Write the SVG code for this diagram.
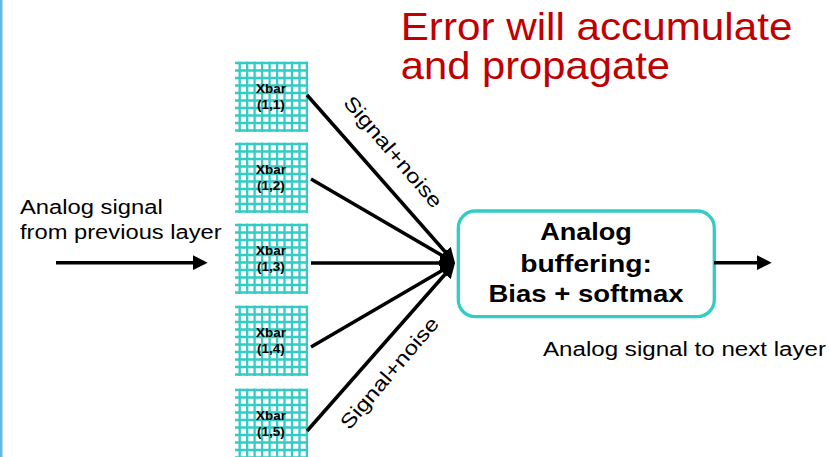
<svg xmlns="http://www.w3.org/2000/svg" xmlns:xlink="http://www.w3.org/1999/xlink" width="829" height="457" viewBox="0 0 829 457">
  <style>
    .grid { fill: none; stroke: #33CCC4; stroke-width: 2.3; }
    .xlbl { font-family: "Liberation Sans", Arial, sans-serif; font-weight: bold; font-size: 13.5px; fill: #000; text-anchor: middle; }
    .txt { font-family: "Liberation Sans", Arial, sans-serif; font-size: 20px; fill: #000; }
    .btxt { font-family: "Liberation Sans", Arial, sans-serif; font-weight: bold; font-size: 23px; fill: #000; text-anchor: middle; }
    .title { font-family: "Liberation Sans", Arial, sans-serif; font-size: 39px; fill: #C00000; }
    .wire { stroke: #000; stroke-width: 3.5; fill: none; marker-end: url(#head); }
    .box { fill: #fff; stroke: #33CCC4; stroke-width: 3.3; }
  </style>
  <defs>
    <marker id="head" markerUnits="userSpaceOnUse" markerWidth="15" markerHeight="15" refX="5" refY="7.5" orient="auto">
      <path d="M0,0 L15,7.5 L0,15 Z" fill="#000"/>
    </marker>
    <!-- crossbar array: 10 x 10 grid of wires -->
    <path id="xbarGrid" class="grid" d="M4.7 -1.5V69 M12.2 -1.5V69 M19.6 -1.5V69 M27.1 -1.5V69 M34.6 -1.5V69 M42.1 -1.5V69 M49.5 -1.5V69 M57 -1.5V69 M64.5 -1.5V69 M71.9 -1.5V69 M0 0H73 M0 7.5H73 M0 15H73 M0 22.5H73 M0 30H73 M0 37.5H73 M0 45H73 M0 52.5H73 M0 60H73 M0 67.5H73"/>
  </defs>

  <rect width="829" height="457" fill="#fff"/>
  <!-- slide edge -->
  <rect x="0" y="0" width="2.5" height="457" fill="#63B8E8"/>

  <g id="caption">
    <text class="title" x="400.7" y="40" textLength="391.7" lengthAdjust="spacingAndGlyphs">Error will accumulate</text>
    <text class="title" x="400.7" y="79" textLength="269.3" lengthAdjust="spacingAndGlyphs">and propagate</text>
  </g>

  <g id="input-label">
    <text class="txt" x="20" y="214.3" textLength="142.7" lengthAdjust="spacingAndGlyphs">Analog signal</text>
    <text class="txt" x="20" y="239.3" textLength="201.7" lengthAdjust="spacingAndGlyphs">from previous layer</text>
  </g>

  <g id="xbar11" transform="translate(235,63)">
    <use xlink:href="#xbarGrid"/>
    <text class="xlbl" x="36" y="30" textLength="30" lengthAdjust="spacingAndGlyphs">Xbar</text>
    <text class="xlbl" x="36" y="45.5">(1,1)</text>
  </g>
  <g id="xbar12" transform="translate(235,144)">
    <use xlink:href="#xbarGrid"/>
    <text class="xlbl" x="36" y="30" textLength="30" lengthAdjust="spacingAndGlyphs">Xbar</text>
    <text class="xlbl" x="36" y="45.5">(1,2)</text>
  </g>
  <g id="xbar13" transform="translate(235,225)">
    <use xlink:href="#xbarGrid"/>
    <text class="xlbl" x="36" y="30" textLength="30" lengthAdjust="spacingAndGlyphs">Xbar</text>
    <text class="xlbl" x="36" y="45.5">(1,3)</text>
  </g>
  <g id="xbar14" transform="translate(235,307)">
    <use xlink:href="#xbarGrid"/>
    <text class="xlbl" x="36" y="30" textLength="30" lengthAdjust="spacingAndGlyphs">Xbar</text>
    <text class="xlbl" x="36" y="45.5">(1,4)</text>
  </g>
  <g id="xbar15" transform="translate(235,390)">
    <use xlink:href="#xbarGrid"/>
    <text class="xlbl" x="36" y="30" textLength="30" lengthAdjust="spacingAndGlyphs">Xbar</text>
    <text class="xlbl" x="36" y="45.5">(1,5)</text>
  </g>

  <g id="buffer">
    <rect class="box" x="458.3" y="211" width="256" height="105.7" rx="17" ry="17"/>
    <text class="btxt" x="586" y="240" textLength="91.7" lengthAdjust="spacingAndGlyphs">Analog</text>
    <text class="btxt" x="586" y="271.7" textLength="131.7" lengthAdjust="spacingAndGlyphs">buffering:</text>
    <text class="btxt" x="586" y="302" textLength="195" lengthAdjust="spacingAndGlyphs">Bias + softmax</text>
  </g>

  <g id="output-label">
    <text class="txt" x="543" y="356" textLength="283" lengthAdjust="spacingAndGlyphs">Analog signal to next layer</text>
  </g>

  <g id="connectors">
    <line class="wire" x1="56" y1="262.7" x2="197.7" y2="262.7"/>
    <line class="wire" x1="307" y1="95" x2="448.4" y2="255.5"/>
    <line class="wire" x1="311" y1="179" x2="446.4" y2="258"/>
    <line class="wire" x1="311" y1="263" x2="445" y2="263"/>
    <line class="wire" x1="311" y1="347" x2="446.4" y2="268"/>
    <line class="wire" x1="307" y1="431" x2="448.4" y2="270.5"/>
    <line class="wire" x1="714" y1="262.7" x2="761.7" y2="262.7"/>
    <text class="txt" text-anchor="middle" transform="translate(387.9,156.4) rotate(49.5)" textLength="140" lengthAdjust="spacingAndGlyphs">Signal+noise</text>
    <text class="txt" text-anchor="middle" transform="translate(394.6,377.4) rotate(-49.5)" textLength="140" lengthAdjust="spacingAndGlyphs">Signal+noise</text>
  </g>
</svg>
